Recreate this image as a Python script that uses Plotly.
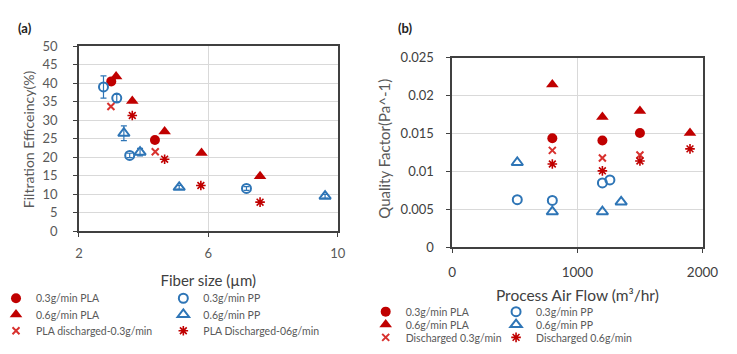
import plotly.graph_objects as go

W, H = 737, 354

# ---------- Panel (a): filtration efficiency vs fibre size ----------
a_pla03_x = [3.0, 4.35]
a_pla03_y = [40.5, 24.7]
a_pp03_x = [2.76, 3.17, 3.57, 7.18]
a_pp03_y = [39.0, 36.0, 20.5, 11.6]
a_pp03_err = [3.0, 1.0, 0.6, 0.5]
a_pla06_x = [3.15, 3.65, 4.65, 5.79, 7.6]
a_pla06_y = [41.8, 35.2, 27.0, 21.2, 14.9]
a_pp06_x = [3.39, 3.89, 5.1, 9.61]
a_pp06_y = [26.5, 21.4, 11.9, 9.5]
a_pp06_err = [2.0, 1.0, 0.5, 0.5]
a_dis03_x = [2.99, 4.36]
a_dis03_y = [33.7, 21.5]
a_dis06_x = [3.65, 4.65, 5.77, 7.6]
a_dis06_y = [31.3, 19.5, 12.4, 7.9]

a_names = ["0.3g/min PLA", "0.3g/min PP", "0.6g/min PLA", "0.6g/min PP",
           "PLA discharged-0.3g/min", "PLA Discharged-06g/min"]

# ---------- Panel (b): quality factor vs process air flow ----------
b_pla03_x = [800, 1200, 1500]
b_pla03_y = [0.0144, 0.0141, 0.0151]
b_pp03_x = [520, 800, 1200, 1260]
b_pp03_y = [0.0063, 0.0062, 0.0085, 0.0089]
b_pla06_x = [800, 1200, 1500, 1900]
b_pla06_y = [0.0215, 0.0172, 0.0180, 0.0151]
b_pp06_x = [520, 800, 1200, 1350]
b_pp06_y = [0.0112, 0.0047, 0.0047, 0.0060]
b_dis03_x = [800, 1200, 1500]
b_dis03_y = [0.0128, 0.0118, 0.0122]
b_dis06_x = [800, 1200, 1500, 1900]
b_dis06_y = [0.0110, 0.0101, 0.0114, 0.0130]

b_names = ["0.3g/min PLA", "0.3g/min PP", "0.6g/min PLA", "0.6g/min PP",
           "Discharged 0.3g/min", "Discharged 0.6g/min"]

RED = "#C00000"
BLUE = "#2E75B6"
RED2 = "#D8312E"

FONT = "Lato"
GREY = "#595959"
DARK = "#404040"

styles = [
    dict(symbol="circle", size=10, color=RED, line=dict(width=0)),
    dict(symbol="circle-open", size=9, color=BLUE, line=dict(width=2, color=BLUE)),
    dict(symbol="triangle-up", size=11, color=RED, line=dict(width=0)),
    dict(symbol="triangle-up-open", size=10, color=BLUE, line=dict(width=2, color=BLUE)),
    dict(symbol="x-thin-open", size=7, color=RED2, line=dict(width=2, color=RED2)),
    dict(symbol="asterisk-open", size=8, color=RED, line=dict(width=1.6, color=RED)),
]

fig = go.Figure()

a_series = [(a_pla03_x, a_pla03_y, None), (a_pp03_x, a_pp03_y, a_pp03_err),
            (a_pla06_x, a_pla06_y, None), (a_pp06_x, a_pp06_y, a_pp06_err),
            (a_dis03_x, a_dis03_y, None), (a_dis06_x, a_dis06_y, None)]
b_series = [(b_pla03_x, b_pla03_y), (b_pp03_x, b_pp03_y), (b_pla06_x, b_pla06_y),
            (b_pp06_x, b_pp06_y), (b_dis03_x, b_dis03_y), (b_dis06_x, b_dis06_y)]

# legend slots (pixel text-start x, pixel row y)
a_text_x = [32, 204]
a_rows = [304, 321, 338]
b_text_x = [412, 546]
b_rows = [318, 331.5, 345]
INDENT = -8
TEXTGAP = INDENT + 30 + 10

legends = {}
for i, (x, y, err) in enumerate(a_series):
    lid = "legend" if i == 0 else f"legend{i + 1}"
    tr = go.Scatter(x=x, y=y, mode="markers", name=a_names[i], marker=styles[i],
                    xaxis="x", yaxis="y", legend=lid, showlegend=True)
    if err is not None:
        tr.error_y = dict(type="data", array=err, color=BLUE, thickness=1.2, width=3)
    fig.add_trace(tr)
    col, row = i % 2, i // 2
    legends[lid] = dict(x=(a_text_x[col] - TEXTGAP) / W, y=1 - a_rows[row] / H,
                        xanchor="left", yanchor="middle", bgcolor="rgba(0,0,0,0)",
                        indentation=INDENT, itemwidth=30, visible=True,
                        font=dict(family=FONT, size=10.5, color=GREY))

for i, (x, y) in enumerate(b_series):
    lid = f"legend{i + 7}"
    fig.add_trace(go.Scatter(x=x, y=y, mode="markers", name=b_names[i], marker=styles[i],
                             xaxis="x2", yaxis="y2", legend=lid, showlegend=True))
    col, row = i % 2, i // 2
    legends[lid] = dict(x=(b_text_x[col] - TEXTGAP) / W, y=1 - b_rows[row] / H,
                        xanchor="left", yanchor="middle", bgcolor="rgba(0,0,0,0)",
                        indentation=INDENT, itemwidth=30, visible=True,
                        font=dict(family=FONT, size=10.5, color=GREY))

axis_common = dict(showgrid=True, gridcolor="#D9D9D9", gridwidth=1, zeroline=False,
                   showline=True, linecolor=DARK, linewidth=1.5, mirror=True,
                   ticks="outside", ticklen=4, tickcolor=DARK)

fig.update_layout(
    width=W, height=H, margin=dict(l=0, r=0, t=0, b=0),
    paper_bgcolor="white", plot_bgcolor="white", showlegend=True,
    font=dict(family=FONT, color=GREY),
    xaxis=dict(domain=[77 / W, 343 / W], range=[2, 10], dtick=4, tick0=2,
               tickfont=dict(size=13, color=GREY), ticklabelstandoff=5,
               title=dict(text="Fiber size (µm)", font=dict(size=15, color=DARK), standoff=16),
               anchor="y", **axis_common),
    yaxis=dict(domain=[1 - 234 / H, 1 - 40 / H], range=[0, 50], dtick=5,
               tickfont=dict(size=13, color=GREY), ticklabelstandoff=13,
               anchor="x", **axis_common),
    xaxis2=dict(domain=[460.7 / W, 718 / W], range=[0, 2000], dtick=1000,
                tickfont=dict(size=13.5, color=DARK), ticklabelstandoff=8,
                title=dict(text="Process Air Flow (m³/hr)", font=dict(size=15.5, color=DARK), standoff=11),
                anchor="y2", **axis_common),
    yaxis2=dict(domain=[1 - 250.7 / H, 1 - 52.3 / H], range=[0, 0.025], dtick=0.005,
                tickfont=dict(size=13, color=DARK), ticklabelstandoff=10,
                anchor="x2", **axis_common),
    annotations=[
        dict(text="<b>(a)</b>", x=22 / W, y=1 - 21 / H, xref="paper", yref="paper",
             xanchor="center", yanchor="middle",
             showarrow=False, font=dict(size=13, color="#222")),
        dict(text="<b>(b)</b>", x=413 / W, y=1 - 21 / H, xref="paper", yref="paper",
             xanchor="center", yanchor="middle",
             showarrow=False, font=dict(size=13, color="#222")),
        dict(text="Filtration Efficeincy(%)", x=25 / W, y=1 - 137 / H, xref="paper", yref="paper",
             xanchor="center", yanchor="middle", textangle=-90,
             showarrow=False, font=dict(size=14, color=GREY)),
        dict(text="Quality Factor(Pa^-1)", x=391 / W, y=1 - 147 / H, xref="paper", yref="paper",
             xanchor="center", yanchor="middle", textangle=-90,
             showarrow=False, font=dict(size=15, color=GREY)),
    ],
    **legends,
)

fig.write_html("out.html")
